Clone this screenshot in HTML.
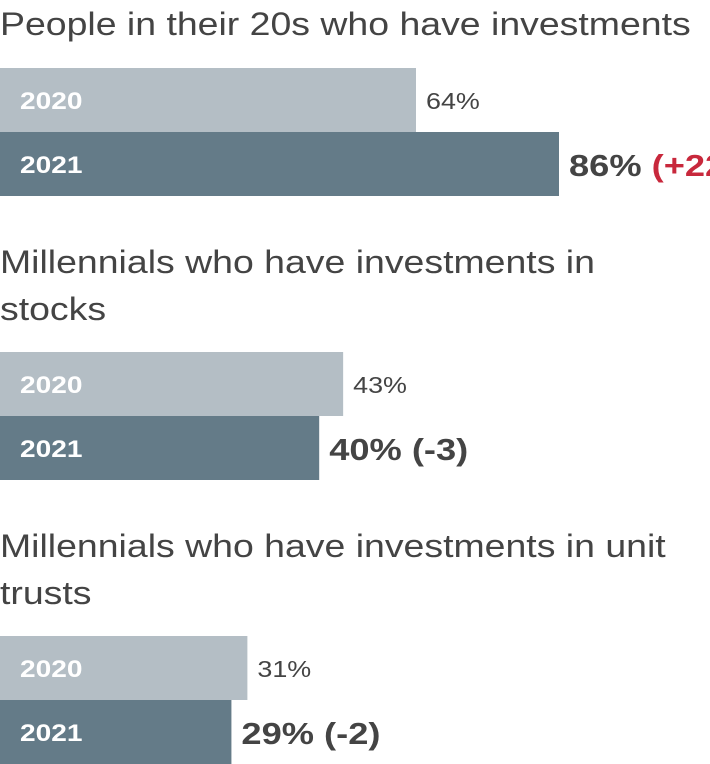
<!DOCTYPE html>
<html><head><meta charset="utf-8"><style>
body{margin:0;background:#fff;width:710px;height:764px;overflow:hidden}
svg{display:block;font-family:"Liberation Sans",sans-serif}
</style></head><body>
<svg id="c" width="710" height="764"></svg>
<script>
const titles=[["People in their 20s who have investments"],["Millennials who have investments in","stocks"],["Millennials who have investments in unit","trusts"]];
const years=["2020","2021"];
const values2020=[64,43,31];
const values2021=[86,40,29];
const changes=["+22","-3","-2"];
const pxPerUnit=[6.5,7.98,7.98];
const titleY=[35,273,557];
const barTop=[68,352,636];
const SX=1.17;
const ns="http://www.w3.org/2000/svg";
const svg=document.getElementById("c");
function mk(t,a,txt){const e=document.createElementNS(ns,t);for(const k in a)e.setAttribute(k,a[k]);if(txt!=null)e.textContent=txt;svg.appendChild(e);return e;}
function wide(x,y,a,txt){a.x=0;a.y=0;a.transform="translate("+x+","+y+") scale("+SX+",1)";return mk("text",a,txt);}
const xs=(i,v)=>v*pxPerUnit[i];
titles.forEach((lines,i)=>{
  lines.forEach((l,j)=>{
    const t=wide(0,titleY[i]+j*47,{"font-size":32,fill:"#444"},l);
    
    
  });
  [values2020[i],values2021[i]].forEach((v,k)=>{
    const y=barTop[i]+k*64;
    const w=xs(i,v);
    const r=mk("rect",{x:0,y:y,width:w,height:64,fill:k?"#647b88":"#b4bec5"});
    
    
    const yl=wide(20,y+41,{"font-size":24,"font-weight":"bold",fill:"#fff"},years[k]);
    
    
    const vl=wide(w+10,k?y+44:y+41,{"font-size":k?31:23,"font-weight":k?"bold":"normal",fill:"#444"});
    
    
    const s1=document.createElementNS(ns,"tspan");s1.textContent=v+"%";vl.appendChild(s1);
    if(k){const s2=document.createElementNS(ns,"tspan");s2.textContent=" ("+changes[i]+")";
      if(changes[i][0]==="+")s2.setAttribute("fill","#c8283c");vl.appendChild(s2);}
  });
});
</script>
</body></html>
